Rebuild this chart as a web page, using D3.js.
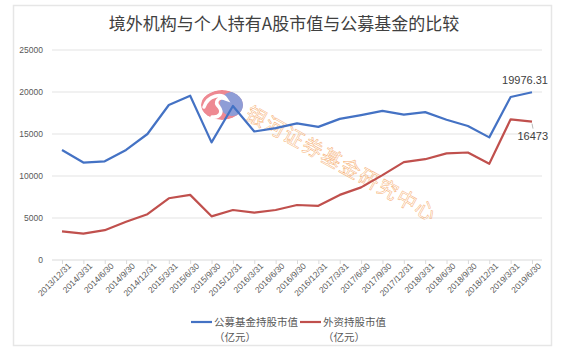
<!DOCTYPE html>
<html><head><meta charset="utf-8">
<script src="https://cdn.jsdelivr.net/npm/d3@7/dist/d3.min.js"></script>
<style>body{margin:0;background:#fff;}svg{display:block;font-family:"Noto Sans CJK SC","Noto Sans",sans-serif;}</style>
</head><body><svg id="c" width="562" height="357"></svg>
<script>
const categories = ["2013/12/31","2014/3/31","2014/6/30","2014/9/30","2014/12/31","2015/3/31","2015/6/30","2015/9/30","2015/12/31","2016/3/31","2016/6/30","2016/9/30","2016/12/31","2017/3/31","2017/6/30","2017/9/30","2017/12/31","2018/3/31","2018/6/30","2018/9/30","2018/12/31","2019/3/31","2019/6/30"];
const fundValues = [13100,11600,11750,13100,15000,18450,19560,14000,18330,15300,15700,16270,15850,16800,17250,17750,17300,17600,16700,15950,14600,19400,19976.31];
const foreignValues = [3400,3150,3550,4550,5450,7350,7750,5200,5950,5650,5950,6550,6450,7750,8650,10100,11650,12000,12700,12800,11450,16750,16473];
const yTicks = [0,5000,10000,15000,20000,25000];
const seriesNames = ["公募基金持股市值", "外资持股市值"];
const colors = ["#4472c4", "#c0504d"];

const svg = d3.select("#c");
svg.append("rect").attr("x",13.5).attr("y",5.5).attr("width",538).attr("height",340)
  .attr("fill","#fff").attr("stroke","#e6e6e6").attr("stroke-width",1.5);

svg.append("text").attr("x",284).attr("y",30).attr("text-anchor","middle")
  .attr("font-size",17).attr("fill","#404040").text("境外机构与个人持有A股市值与公募基金的比较");

const x = d3.scalePoint().domain(categories).range([62,532]);
const y = d3.scaleLinear().domain([0,25000]).range([260,50]);

svg.append("g").selectAll("line").data(yTicks.slice(1)).join("line")
  .attr("x1",52).attr("x2",542).attr("y1",d=>y(d)).attr("y2",d=>y(d))
  .attr("stroke","#e3e3e3").attr("stroke-width",1);

const ya = svg.append("g").attr("transform","translate(46,0)")
  .call(d3.axisLeft(y).tickValues(yTicks).tickSize(0).tickPadding(3).tickFormat(d3.format("d")));
ya.select(".domain").remove();
ya.selectAll("text").attr("font-size",8.5).attr("fill","#595959").attr("font-family","Liberation Sans, sans-serif");

const xa = svg.append("g").attr("transform","translate(0,260)")
  .call(d3.axisBottom(x).tickSize(4).tickPadding(2));
xa.select(".domain").attr("stroke","#d9d9d9").attr("d","M52,0H542");
xa.selectAll(".tick line").attr("stroke","#d9d9d9");
xa.selectAll("text").attr("font-size",8.5).attr("fill","#595959")
  .attr("font-family","Liberation Sans, sans-serif")
  .attr("text-anchor","end").attr("dx","0.2em").attr("dy","0.6em")
  .attr("transform","rotate(-45)");

// watermark logo
const defs = svg.append("defs");
defs.append("clipPath").attr("id","lc").append("ellipse").attr("cx",0).attr("cy",0).attr("rx",21).attr("ry",15);
const logo = svg.append("g").attr("transform","translate(222,105)").attr("opacity",0.85);
const lgc = logo.append("g").attr("clip-path","url(#lc)");
lgc.append("ellipse").attr("rx",21).attr("ry",15).attr("fill","#ec7580");
lgc.append("circle").attr("cx",10).attr("cy",-1).attr("r",12).attr("fill","#7b8cd0");
logo.append("path").attr("d","M-18,2 C-14,-10 0,-12 4,-6 C-4,-9 -8,-3 -3,2 C1,7 -2,13 -10,12")
  .attr("fill","none").attr("stroke","#fff").attr("stroke-width",3.5).attr("stroke-linecap","round");

// watermark text
svg.append("text").attr("transform","translate(244,118) rotate(29)")
  .attr("font-size",20).attr("fill","none").attr("stroke","#f6a864").attr("stroke-width",0.5)
  .attr("letter-spacing",1.5).attr("opacity",0.9).text("银河证券基金研究中心");

const line = d3.line().x((d,i)=>x(categories[i])).y(d=>y(d));
[fundValues, foreignValues].forEach((vals,k)=>{
  svg.append("path").datum(vals).attr("d",line).attr("fill","none")
    .attr("stroke",colors[k]).attr("stroke-width",2.2).attr("stroke-linejoin","round");
});

const last = categories.length-1;
svg.append("text").attr("x",x(categories[last])+16).attr("y",y(fundValues[last])-8)
  .attr("text-anchor","end").attr("font-size",11).attr("fill","#404040")
  .attr("font-family","Liberation Sans, sans-serif").text("19976.31");
svg.append("line").attr("x1",x(categories[last])).attr("y1",y(foreignValues[last])+2)
  .attr("x2",x(categories[last])+1).attr("y2",y(foreignValues[last])+7).attr("stroke","#a6a6a6").attr("stroke-width",0.8);
svg.append("text").attr("x",x(categories[last])+16).attr("y",y(foreignValues[last])+18)
  .attr("text-anchor","end").attr("font-size",11).attr("fill","#404040")
  .attr("font-family","Liberation Sans, sans-serif").text("16473");

const lg = [{x:191},{x:300}];
seriesNames.forEach((n,k)=>{
  const g = svg.append("g").attr("transform",`translate(${lg[k].x},322)`);
  g.append("line").attr("x1",0).attr("x2",21).attr("y1",0).attr("y2",0).attr("stroke",colors[k]).attr("stroke-width",2.2);
  g.append("text").attr("x",23).attr("y",4).attr("font-size",10.5).attr("fill","#595959").text(n);
  g.append("text").attr("x",23).attr("y",19).attr("font-size",10.5).attr("fill","#595959").text("（亿元）");
});
</script></body></html>
